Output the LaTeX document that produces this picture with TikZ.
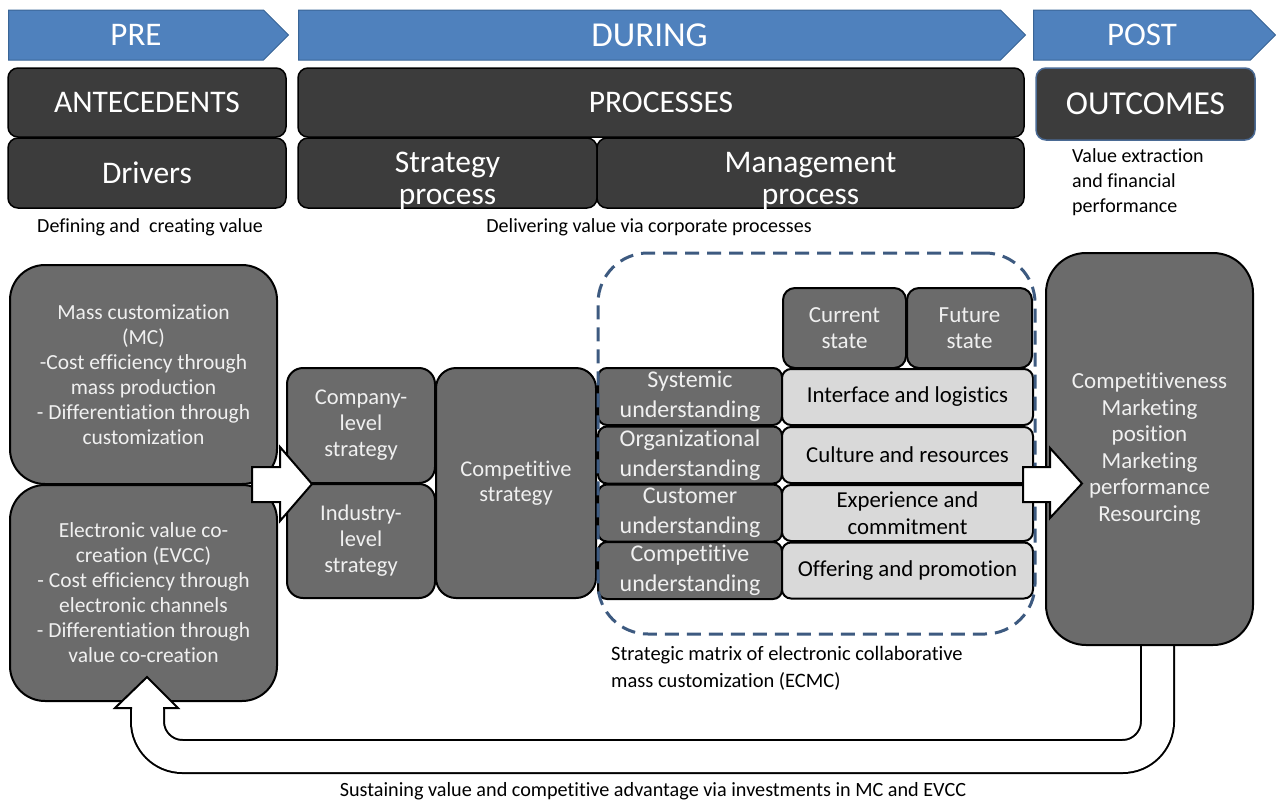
\documentclass[tikz,border=0pt]{standalone}
\usepackage{fontspec}
\setmainfont{Carlito}[Ligatures=NoCommon]
\usetikzlibrary{shapes.symbols}

\definecolor{phaseblue}{HTML}{4F81BD}
\definecolor{phaseline}{HTML}{3A6596}
\definecolor{headgray}{HTML}{3C3C3C}
\definecolor{boxgray}{HTML}{6B6B6B}
\definecolor{cellgray}{HTML}{D9D9D9}
\definecolor{boxtext}{HTML}{F0F0F0}
\definecolor{dashblue}{HTML}{3D5A80}
\definecolor{outcline}{HTML}{4A6A94}

\begin{document}
\begin{tikzpicture}[x=1pt, y=-1pt,
  phase/.style={signal, signal to=east, signal pointer angle=90, fill=phaseblue, draw=phaseline, line width=1pt, minimum height=50pt, inner sep=0pt, text=white, font=\fontsize{33}{36}\selectfont},
  headbox/.style={draw=black, fill=headgray, rounded corners=10pt, line width=1.5pt, inner sep=0pt, text=white, align=center, font=\fontsize{31.5}{32}\selectfont},
  graybox/.style={draw=black, fill=boxgray, line width=2pt, inner sep=0pt, text=boxtext, align=center},
  cellbox/.style={draw=black, fill=cellgray, line width=2pt, rounded corners=9pt, inner sep=0pt, align=center, font=\fontsize{22.8}{27}\selectfont},
  note/.style={inner sep=0pt, font=\fontsize{20}{25}\selectfont},
  hollow/.style={draw=black, fill=white, line width=2pt}]

  \useasboundingbox (0,0) rectangle (1276,803);

  % feedback loop, under the boxes
  \coordinate (fbR) at (1157.5,645);
  \coordinate (fbL) at (147.5,706);
  \draw[line width=35pt, rounded corners=35pt] (fbR) -- ++(0,111.5) -| (fbL);
  \draw[line width=31pt, white, rounded corners=35pt] (fbR) -- ++(0,111.5) -| (fbL);

  % phases
  \node[phase, minimum width=280pt] (pre) at (136,35) {PRE};
  \node[phase, minimum width=727pt, font=\fontsize{35}{36}\selectfont] (during) at (649.5,35) {DURING};
  \node[phase, minimum width=242pt] (post) at (1142,35) {POST};

  % headers
  \node[headbox, minimum width=278pt, minimum height=69pt] (ante) at (147,102.5) {ANTECEDENTS};
  \node[headbox, minimum width=278pt, minimum height=70pt] (drivers) at (147,173) {Drivers};
  \node[headbox, minimum width=726pt, minimum height=69pt] (proc) at (661,102.5) {PROCESSES};
  \node[headbox, inner ysep=-5pt, minimum width=299pt, minimum height=70pt] (strat) at (447.5,173) {\rule{0pt}{37pt}Strategy\\process};
  \node[headbox, inner ysep=-5pt, minimum width=427pt, minimum height=70pt] (mgmt) at (810.5,173) {\rule{0pt}{37pt}Management\\process};
  \node[headbox, draw=outcline, minimum width=219pt, minimum height=72pt, font=\fontsize{33.5}{34}\selectfont] (outc) at (1145.5,104) {OUTCOMES};

  \node[note] (defn) at (150,227) {Defining and\ \ creating value};
  \node[note] (deliv) at (649,227) {Delivering value via corporate processes};
  \node[note, anchor=west, align=left] (valx) at (1072,182) {Value extraction\\and financial\\performance};

  % drivers
  \node[graybox, rounded corners=35pt, minimum width=267pt, minimum height=219pt, font=\fontsize{21.5}{25}\selectfont] (mc) at (143.5,374.5)
    {Mass customization\\(MC)\\-Cost efficiency through\\mass production\\- Differentiation through\\customization};
  \node[graybox, rounded corners=35pt, minimum width=267pt, minimum height=216pt, font=\fontsize{21.5}{25}\selectfont] (evcc) at (143.5,593)
    {Electronic value co-\\creation (EVCC)\\- Cost efficiency through\\electronic channels\\- Differentiation through\\value co-creation};

  % strategy process
  \node[graybox, rounded corners=16pt, minimum width=148pt, minimum height=115pt, font=\fontsize{22.5}{26}\selectfont] (company) at (361,425.5) {Company-\\level\\strategy};
  \node[graybox, rounded corners=16pt, minimum width=148pt, minimum height=114pt, font=\fontsize{22.5}{26}\selectfont] (industry) at (361,541) {Industry-\\level\\strategy};
  \node[graybox, rounded corners=20pt, minimum width=160pt, minimum height=230pt, font=\fontsize{22.5}{25}\selectfont] (compstrat) at (516,483) {Competitive\\strategy};

  % management process matrix
  \node[graybox, rounded corners=12pt, minimum width=123pt, minimum height=80pt, font=\fontsize{23}{26}\selectfont] (current) at (844.5,328) {Current\\state};
  \node[graybox, rounded corners=12pt, minimum width=125pt, minimum height=80pt, font=\fontsize{23}{26}\selectfont] (future) at (969.5,328) {Future\\state};

  \node[graybox, rounded corners=9pt, minimum width=184pt, minimum height=57pt, font=\fontsize{24}{29.5}\selectfont] (sysu) at (690,396.5) {Systemic\\understanding};
  \node[graybox, rounded corners=9pt, minimum width=184pt, minimum height=57pt, font=\fontsize{24}{29.5}\selectfont] (orgu) at (690,455) {Organizational\\understanding};
  \node[graybox, rounded corners=9pt, minimum width=184pt, minimum height=57pt, font=\fontsize{24}{29.5}\selectfont] (cusu) at (690,513) {Customer\\understanding};
  \node[graybox, rounded corners=9pt, minimum width=184pt, minimum height=57pt, font=\fontsize{24}{29.5}\selectfont] (comu) at (690,570.5) {Competitive\\understanding};

  \node[cellbox, minimum width=251pt, minimum height=56pt] (iface) at (907.5,397) {Interface and logistics};
  \node[cellbox, minimum width=251pt, minimum height=56pt] (cult) at (907.5,455) {Culture and resources};
  \node[cellbox, minimum width=251pt, minimum height=56pt] (expc) at (907.5,513) {Experience and\\commitment};
  \node[cellbox, minimum width=251pt, minimum height=56pt] (offr) at (907.5,570.5) {Offering and promotion};

  \node[draw=dashblue, line width=3pt, dash pattern=on 14pt off 8pt, rounded corners=50pt, minimum width=437pt, minimum height=381pt] (ecmc) at (816.5,443.5) {};
  \node[note, anchor=west, align=left, font=\fontsize{20.5}{27}\selectfont] (ecmcnote) at (611,668.5) {Strategic matrix of electronic collaborative\\mass customization (ECMC)};

  % outcomes
  \node[graybox, rounded corners=40pt, minimum width=207pt, minimum height=392pt, font=\fontsize{23}{26.6}\selectfont] (result) at (1149.5,449)
    {Competitiveness\\Marketing\\position\\Marketing\\performance\\Resourcing};

  % block arrows
  \coordinate (inL) at (252,484.5);
  \coordinate (inR) at (1023,484.5);
  \draw[hollow] (inL) ++(0,-17.5) -- ++(28,0) -- ++(0,-20) -- (312,484) -- (280,521) -- ++(0,-19) -- ++(-28,0) -- cycle;
  \draw[hollow] (inR) ++(0,-17.5) -- ++(27,0) -- ++(0,-19) -- (1082,483.5) -- (1050,518) -- ++(0,-16) -- ++(-27,0) -- cycle;

  % feedback head
  \draw[hollow] (132,708) -- (115,708) -- (147,677) -- (178,708) -- (163,708);

  \node[note, font=\fontsize{20.2}{22}\selectfont] (sustain) at (653,791) {Sustaining value and competitive advantage via investments in MC and EVCC};
\end{tikzpicture}
\end{document}
